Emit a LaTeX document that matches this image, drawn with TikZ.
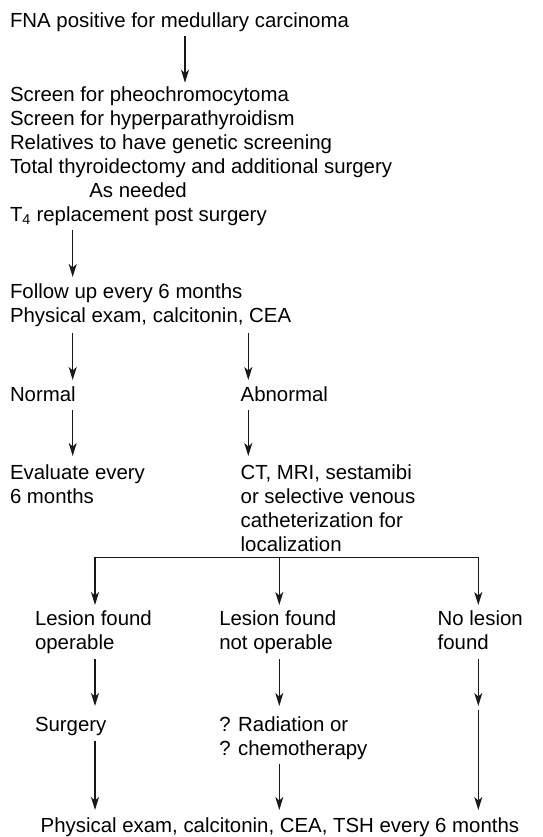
\documentclass[tikz,border=0pt]{standalone}
\usepackage{fontspec}
\setmainfont{Liberation Sans}
\usetikzlibrary{arrows.meta}
\colorlet{flow line}{black!90}
\tikzset{flowtext/.style={anchor=north west, inner sep=0pt, outer sep=0pt, align=left,
        font=\fontsize{20.4pt}{24pt}\selectfont},
      flow/.style={draw=flow line, line width=1.3pt, -{Stealth[length=13pt,width=8pt,inset=3.5pt]}},
      branch/.style={draw=flow line, line width=1.3pt}}

\begin{document}
\begin{tikzpicture}[x=1pt,y=-1pt]
\useasboundingbox (0,0) rectangle (542,837);
\coordinate (colA) at (72.7,0);
\coordinate (colB) at (248.3,0);
\coordinate (colC) at (185,0);
\coordinate (colL) at (95,0);
\coordinate (colM) at (279.3,0);
\coordinate (colR) at (478.3,0);

\node[flowtext] (fna) at (10,13) {FNA positive for medullary carcinoma};
\node[flowtext] (screen) at (10,87) {Screen for pheochromocytoma\\
    Screen for hyperparathyroidism\\
    Relatives to have genetic screening\\
    Total thyroidectomy and additional surgery\\
    \hspace*{79.3pt}As needed\\
    T\textsubscript{4} replacement post surgery};
\node[flowtext] (follow) at (10,284) {Follow up every 6 months\\Physical exam, calcitonin, CEA};
\node[flowtext] (normal) at (10,387) {Normal};
\node[flowtext] (abnormal) at (240.7,387) {Abnormal};
\node[flowtext] (evaluate) at (10,464.3) {Evaluate every\\6 months};
\node[flowtext] (localize) at (240.7,464.3) {CT, MRI, sestamibi\\or selective venous\\catheterization for\\localization};
\node[flowtext] (operable) at (35,610.3) {Lesion found\\operable};
\node[flowtext] (notoperable) at (219.3,610.3) {Lesion found\\not operable};
\node[flowtext] (nolesion) at (437.7,610.3) {No lesion\\found};
\node[flowtext] (surgery) at (35,717) {Surgery};
\node[flowtext] (radiation) at (219.3,717) {? Radiation or\\? chemotherapy};
\node[flowtext] (final) at (40.7,818) {Physical exam, calcitonin, CEA, TSH every 6 months};

\coordinate (split) at (279.3,557.3);
\coordinate (relay) at (478.3,708);

\draw[flow, shorten <=4pt, shorten >=4.3pt] (fna.south -| colC) -- (screen.north -| colC);
\draw[flow, shorten <=4pt, shorten >=7pt] (screen.south -| colA) -- (follow.north -| colA);
\draw[flow, shorten <=5.7pt, shorten >=7pt] (follow.south -| colA) -- (normal.north -| colA);
\draw[flow, shorten <=5.7pt, shorten >=7pt] (follow.south -| colB) -- (abnormal.north -| colB);
\draw[flow, shorten <=7.6pt, shorten >=8.3pt] (normal.south -| colA) -- (evaluate.north -| colA);
\draw[flow, shorten <=7.6pt, shorten >=8.3pt] (abnormal.south -| colB) -- (localize.north -| colB);
\draw[branch] (split -| colL) -- (split -| colR);
\draw[flow, shorten >=5.3pt] (split -| colL) -- (operable.north -| colL);
\draw[flow, shorten >=5.3pt] (split) -- (notoperable.north -| colM);
\draw[flow, shorten >=5.3pt] (split -| colR) -- (nolesion.north -| colR);
\draw[flow, shorten <=5.7pt, shorten >=11pt] (operable.south -| colL) -- (surgery.north -| colL);
\draw[flow, shorten <=5.7pt, shorten >=11pt] (notoperable.south -| colM) -- (radiation.north -| colM);
\draw[flow, shorten <=10pt, shorten >=2pt] (nolesion.south -| colR) -- (relay);
\draw[flow, shorten <=5.7pt, shorten >=8pt] (surgery.south -| colL) -- (final.north -| colL);
\draw[flow, shorten <=4pt, shorten >=8pt] (radiation.south -| colM) -- (final.north -| colM);
\draw[flow, shorten <=2pt, shorten >=8pt] (relay) -- (final.north -| colR);
\end{tikzpicture}
\end{document}
